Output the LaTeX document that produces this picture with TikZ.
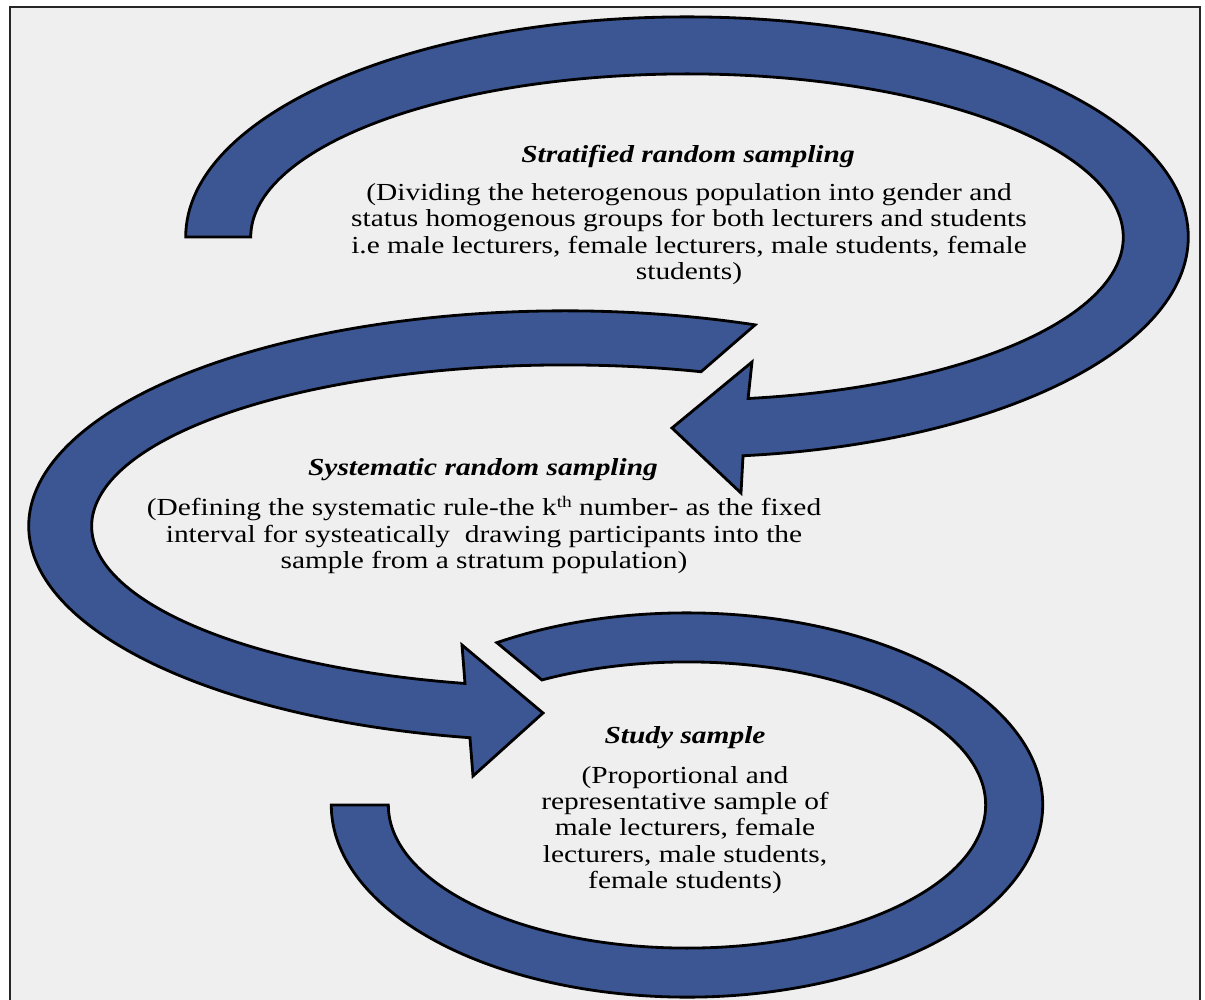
\documentclass[tikz,border=0pt]{standalone}
\usepackage{fontspec}
\setmainfont{Liberation Serif}[FakeStretch=1.2]
\usetikzlibrary{calc}
\definecolor{bandblue}{RGB}{59,86,146}
\definecolor{panelgray}{RGB}{239,239,239}
\newcommand{\ordsup}[1]{\raisebox{0.75ex}{\fontsize{4.6}{5}\selectfont #1}}

\begin{document}
\begin{tikzpicture}[x=0.01cm, y=-0.01cm,
  band/.style={fill=bandblue, draw=black, line width=0.8pt, line join=miter},
  heading/.style={font=\fontsize{6.97}{7.48}\selectfont\bfseries\itshape, inner sep=0pt},
  body/.style={font=\fontsize{6.97}{7.48}\selectfont, align=center, inner sep=0pt}]

\useasboundingbox (0,0) rectangle (1205,999);
\fill[white] (0,0) rectangle (1205,999);
\draw[fill=panelgray, draw=black!85, line width=0.6pt] (10,7) rectangle (1200,1012);

% centres of the three elliptical bands
\coordinate (c1) at (687,237);
\coordinate (c2) at (565,526);
\coordinate (c3) at (687,805);

% upper band: flat tail on the left, head pointing left underneath
\path[band] (c1) ++(180:5.01cm and 2.20cm)
  arc[start angle=180, end angle=-83.58, x radius=5.01cm, y radius=2.20cm]
  -- (741,493) -- (672,428) -- (752,362)
  -- ($(c1)+(-81.95:4.36cm and 1.63cm)$)
  arc[start angle=-81.95, end angle=180, x radius=4.36cm, y radius=1.63cm]
  -- cycle;

% middle band: slanted tail top right, head pointing right underneath
\path[band] (c2) ++(69.24:5.36cm and 2.15cm)
  arc[start angle=69.24, end angle=259.79, x radius=5.36cm, y radius=2.15cm]
  -- (473,776) -- (543,713) -- (462,645)
  -- ($(c2)+(257.8:4.73cm and 1.61cm)$)
  arc[start angle=257.8, end angle=73.29, x radius=4.73cm, y radius=1.61cm]
  -- cycle;

% lower band: slanted start top left, flat end on the left
\path[band] (c3) ++(122.31:3.555cm and 1.92cm)
  arc[start angle=122.31, end angle=-180, x radius=3.555cm, y radius=1.92cm]
  -- ($(c3)+(180:2.985cm and 1.43cm)$)
  arc[start angle=-180, end angle=119.07, x radius=2.985cm, y radius=1.43cm]
  -- cycle;

% labels
\node[heading] (t1) at (688,156) {Stratified random sampling};
\node[body] (b1) at (689,234) {(Dividing the heterogenous population into gender and\\
status homogenous groups for both lecturers and students\\
i.e male lecturers, female lecturers, male students, female\\
students)};

\node[heading] (t2) at (483,470) {Systematic random sampling};
\node[body] (b2) at (484,535) {(Defining the systematic rule-the k\ordsup{th} number- as the fixed\\
interval for systeatically\ \ drawing participants into the\\
sample from a stratum population)};

\node[heading] (t3) at (685,738) {Study sample};
\node[body] (b3) at (685,830) {(Proportional and\\
representative sample of\\
male lecturers, female\\
lecturers, male students,\\
female students)};
\end{tikzpicture}
\end{document}
